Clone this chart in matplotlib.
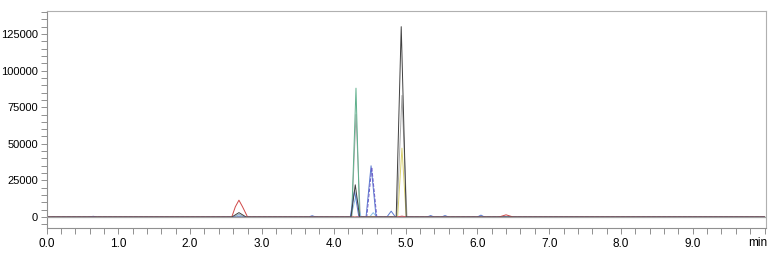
import numpy as np
import matplotlib
matplotlib.use("Agg")
import matplotlib.pyplot as plt
from matplotlib.ticker import MultipleLocator
from matplotlib.transforms import blended_transform_factory

plt.rcParams['font.family'] = ['Liberation Sans', 'DejaVu Sans']

# chromatogram traces: (time min, intensity)
black_t = [0.0, 2.58, 2.68, 2.78, 4.24, 4.30, 4.36, 4.87, 4.94, 5.01, 10.0]
black_y = [0, 0, 3000, 0, 0, 22000, 0, 0, 130000, 0, 0]

gray_t = [0.0, 2.60, 2.68, 2.76, 4.25, 4.31, 4.37, 4.88, 4.95, 5.02, 10.0]
gray_y = [0, 0, 1800, 0, 0, 70000, 0, 0, 83000, 0, 0]

green_t = [0.0, 4.25, 4.31, 4.36, 10.0]
green_y = [0, 0, 88000, 0, 0]

red_t = [0.0, 2.58, 2.63, 2.68, 2.73, 2.80, 4.88, 4.95, 5.02, 6.30, 6.40, 6.50, 10.0]
red_y = [0, 0, 7000, 11500, 7000, 0, 0, 600, 0, 0, 1500, 0, 0]

blue_t = [0.0, 0.60, 0.65, 0.70, 3.65, 3.70, 3.75, 4.23, 4.29, 4.35,
          4.45, 4.52, 4.59, 4.74, 4.80, 4.86, 5.30, 5.35, 5.40, 5.50,
          5.55, 5.60, 6.00, 6.05, 6.10, 10.0]
blue_y = [0, 0, 500, 0, 0, 900, 0, 0, 18000, 0,
          0, 35000, 0, 0, 4000, 0, 0, 1000, 0, 0,
          1000, 0, 0, 1300, 0, 0]

purple_t = [0.0, 4.46, 4.53, 4.60, 10.0]
purple_y = [0, 0, 34000, 0, 0]

yellow_t = [0.0, 4.89, 4.95, 5.01, 10.0]
yellow_y = [0, 0, 47000, 0, 0]

cyan_t = [0.0, 2.62, 2.68, 2.74, 4.24, 4.31, 4.38, 4.50, 4.55, 4.60, 10.0]
cyan_y = [0, 0, 1500, 0, 0, 15000, 0, 0, 3000, 0, 0]

traces = [
    (gray_t, gray_y, '#a8a8a8', '-'),
    (cyan_t, cyan_y, '#8cc0e8', '-'),
    (green_t, green_y, '#5fb08c', '-'),
    (yellow_t, yellow_y, '#d8d070', '-'),
    (blue_t, blue_y, '#5a7ad0', '-'),
    (purple_t, purple_y, '#6a5cc8', '--'),
    (red_t, red_y, '#d04848', '-'),
    (black_t, black_y, '#404040', '-'),
]

x_ticks = [0, 1, 2, 3, 4, 5, 6, 7, 8, 9]
y_ticks = [0, 25000, 50000, 75000, 100000, 125000]

fig = plt.figure(figsize=(7.77, 2.56), dpi=100)
ax = fig.add_axes([46.5 / 777, 1 - 228 / 256, (766 - 46.5) / 777, (228 - 11) / 256])

for t, y, c, ls in traces:
    ax.plot(t, y, color=c, lw=0.7, ls=ls)
# baseline drawn over the flat parts of the traces
ax.axhline(0, color='#a0a0a0', lw=0.9, zorder=3)

ax.set_xlim(0, 10.02)
ax.set_ylim(-7500, 140700)

ax.set_xticks(x_ticks)
ax.set_xticklabels([f'{v:.1f}' for v in x_ticks])
ax.xaxis.set_minor_locator(MultipleLocator(0.2))
ax.set_yticks(y_ticks)
ax.set_yticklabels([str(v) for v in y_ticks])
ax.yaxis.set_minor_locator(MultipleLocator(5000))

ax.tick_params(axis='both', which='both', colors='#909090', labelcolor='black',
               direction='out', length=4, width=0.7)
ax.tick_params(axis='x', pad=3, labelsize=8.5)
ax.tick_params(axis='y', pad=2, labelsize=8)

for s in ax.spines.values():
    s.set_color('#b0b0b0')
    s.set_linewidth(0.8)
ax.spines['left'].set_color('#909090')
ax.spines['bottom'].set_color('#909090')

trans = blended_transform_factory(ax.transData, ax.transAxes)
ax.text(9.9, -0.04, 'min', transform=trans, ha='center', va='top', fontsize=8.5)

fig.savefig('out.png', dpi=100)
